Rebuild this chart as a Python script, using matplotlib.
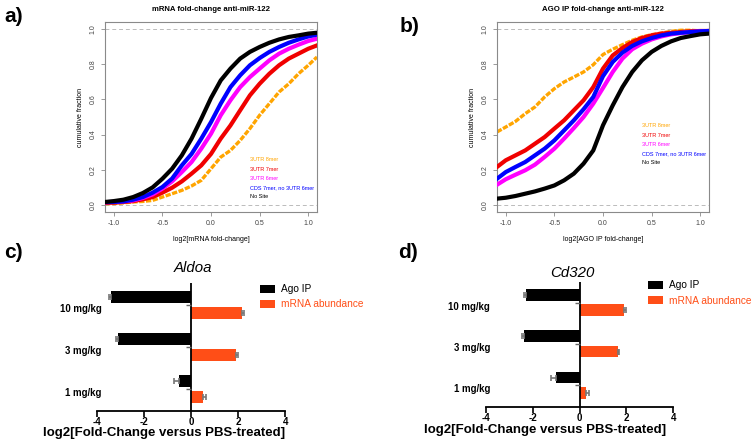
import matplotlib
matplotlib.use("Agg")
import matplotlib.pyplot as plt
from matplotlib.patches import Patch

plt.rcParams['font.family'] = ['Liberation Sans', 'DejaVu Sans']

# ---------------- data ----------------
x_grid = [-1.09, -1.0, -0.9, -0.8, -0.7, -0.6, -0.5, -0.4, -0.3, -0.2, -0.1, 0.0,
          0.1, 0.2, 0.3, 0.4, 0.5, 0.6, 0.7, 0.8, 0.9, 1.0, 1.09]

series_labels = ["3UTR 8mer", "3UTR 7mer", "3UTR 6mer", "CDS 7mer, no 3UTR 6mer", "No Site"]
series_colors = ["#FFA500", "#F00000", "#FF00FF", "#0000FF", "#000000"]

# panel a: mRNA fold-change CDFs
a_8mer = [0.007, 0.008, 0.012, 0.017, 0.02, 0.026, 0.045, 0.064, 0.083, 0.108, 0.14, 0.206,
          0.272, 0.31, 0.367, 0.434, 0.51, 0.576, 0.642, 0.689, 0.746, 0.794, 0.841]
a_7mer = [0.012, 0.013, 0.017, 0.022, 0.032, 0.045, 0.07, 0.098, 0.134, 0.178, 0.225, 0.29,
          0.377, 0.452, 0.538, 0.623, 0.689, 0.746, 0.794, 0.832, 0.86, 0.888, 0.907]
a_6mer = [0.016, 0.017, 0.021, 0.026, 0.04, 0.06, 0.093, 0.134, 0.187, 0.244, 0.32, 0.405,
          0.51, 0.595, 0.67, 0.727, 0.775, 0.822, 0.86, 0.888, 0.911, 0.932, 0.945]
a_cds = [0.016, 0.017, 0.02, 0.03, 0.045, 0.07, 0.102, 0.15, 0.225, 0.29, 0.377, 0.471,
         0.576, 0.67, 0.737, 0.794, 0.835, 0.87, 0.898, 0.922, 0.941, 0.958, 0.968]
a_nosite = [0.017, 0.022, 0.03, 0.045, 0.068, 0.10, 0.149, 0.206, 0.282, 0.377, 0.49, 0.608,
            0.708, 0.775, 0.832, 0.87, 0.898, 0.922, 0.941, 0.955, 0.964, 0.974, 0.979]

# panel b: AGO IP fold-change CDFs
b_8mer = [0.415, 0.443, 0.475, 0.519, 0.557, 0.614, 0.661, 0.699, 0.727, 0.756, 0.797, 0.855,
          0.885, 0.911, 0.936, 0.955, 0.968, 0.977, 0.987, 0.993, 0.993, 0.99, 0.987]
b_7mer = [0.216, 0.254, 0.282, 0.31, 0.348, 0.386, 0.434, 0.481, 0.538, 0.595, 0.67, 0.775,
          0.85, 0.892, 0.926, 0.949, 0.964, 0.974, 0.979, 0.983, 0.987, 0.989, 0.989]
b_6mer = [0.115, 0.146, 0.172, 0.197, 0.229, 0.273, 0.32, 0.377, 0.437, 0.50, 0.576, 0.665,
          0.756, 0.832, 0.885, 0.917, 0.941, 0.958, 0.97, 0.977, 0.983, 0.987, 0.989]
b_cds = [0.149, 0.187, 0.216, 0.244, 0.282, 0.32, 0.367, 0.424, 0.481, 0.544, 0.614, 0.732,
         0.813, 0.866, 0.904, 0.93, 0.949, 0.964, 0.974, 0.979, 0.983, 0.987, 0.989]
b_nosite = [0.036, 0.041, 0.051, 0.064, 0.077, 0.093, 0.111, 0.14, 0.178, 0.235, 0.31, 0.453,
            0.566, 0.67, 0.756, 0.822, 0.87, 0.904, 0.93, 0.949, 0.96, 0.97, 0.974]

# bar panels
doses = ["1 mg/kg", "3 mg/kg", "10 mg/kg"]
aldoa_ago = [-0.54, -3.1, -3.4]
aldoa_ago_err = [0.2, 0.1, 0.1]
aldoa_mrna = [0.49, 1.9, 2.15]
aldoa_mrna_err = [0.13, 0.1, 0.08]
cd320_ago = [-1.01, -2.36, -2.29]
cd320_ago_err = [0.22, 0.1, 0.08]
cd320_mrna = [0.27, 1.62, 1.91]
cd320_mrna_err = [0.15, 0.06, 0.07]

# ---------------- figure ----------------
fig = plt.figure(figsize=(7.53, 4.44), dpi=100)
W, H = 753.0, 444.0


def ax_px(l, t, r, b):
    return fig.add_axes([l / W, 1 - b / H, (r - l) / W, (b - t) / H])


grey = "#8a8a8a"


def cdf_panel(ax, curves, title, xlabel, leg_x, leg_y):
    for ys, c in zip(curves, series_colors):
        if c == "#FFA500":
            ax.plot(x_grid, ys, color=c, lw=2.4, ls=(0, (1.6, 0.45)), zorder=2)
        else:
            ax.plot(x_grid, ys, color=c, lw=3.0, zorder=3)
    ax.axhline(0, color="#bbbbbb", lw=0.7, ls=(0, (4, 3)), zorder=1)
    ax.axhline(1, color="#bbbbbb", lw=0.7, ls=(0, (4, 3)), zorder=1)
    ax.set_xlim(-1.09, 1.09)
    ax.set_ylim(-0.04, 1.04)
    ax.set_xticks([-1.0, -0.5, 0.0, 0.5, 1.0])
    ax.set_xticklabels(["-1.0", "-0.5", "0.0", "0.5", "1.0"])
    ax.set_yticks([0.0, 0.2, 0.4, 0.6, 0.8, 1.0])
    ax.set_yticklabels(["0.0", "0.2", "0.4", "0.6", "0.8", "1.0"], rotation=90, va="center")
    ax.tick_params(labelsize=5, colors="#444444", length=3, width=0.6, pad=3)
    ax.tick_params(axis="both", color=grey)
    for s in ax.spines.values():
        s.set_color(grey)
        s.set_linewidth(0.8)
    ax.set_title(title, fontsize=5.6, fontweight="bold", pad=8)
    ax.set_xlabel(xlabel, fontsize=5, labelpad=6)
    ax.set_ylabel("cumulative fraction", fontsize=5, labelpad=4)
    for i, (lab, c) in enumerate(zip(series_labels, series_colors)):
        ax.text(leg_x, leg_y - i * 0.048, lab, color=c, fontsize=4.0,
                transform=ax.transAxes, va="center", ha="left")


ax_a = ax_px(105, 22, 317, 212)
cdf_panel(ax_a, [a_8mer, a_7mer, a_6mer, a_cds, a_nosite],
          "mRNA fold-change anti-miR-122", "log2[mRNA fold-change]", 0.684, 0.274)

ax_b = ax_px(497, 22, 709, 212)
cdf_panel(ax_b, [b_8mer, b_7mer, b_6mer, b_cds, b_nosite],
          "AGO IP fold-change anti-miR-122", "log2[AGO IP fold-change]", 0.685, 0.453)

orange = "#FF4E17"


def bar_panel(ax, ago, ago_err, mrna, mrna_err, title, ylim, title_xy, xlabel_xy, leg_xy):
    pos = list(range(len(doses)))
    off = 0.185
    h = 0.28
    ago_pos = [p + off for p in pos]
    mrna_pos = [p - off for p in pos]
    ago_xerr = [[e for e in ago_err], [0 for _ in ago_err]]
    mrna_xerr = [[0 for _ in mrna_err], [e for e in mrna_err]]
    ax.barh(ago_pos, ago, height=h, color="black", xerr=ago_xerr,
            error_kw=dict(ecolor="#777777", elinewidth=1.2, capsize=2.5, capthick=1.2),
            label="Ago IP", zorder=2)
    ax.barh(mrna_pos, mrna, height=h, color=orange, xerr=mrna_xerr,
            error_kw=dict(ecolor="#777777", elinewidth=1.2, capsize=2.5, capthick=1.2),
            label="mRNA abundance", zorder=2)
    ax.set_xlim(-4, 4)
    ax.set_ylim(*ylim)
    ax.set_xticks([-4, -2, 0, 2, 4])
    ax.set_xticklabels(["-4", "-2", "0", "2", "4"], fontweight="bold")
    ax.tick_params(axis="x", labelsize=7, length=4, width=1.2, pad=0.5)
    ax.set_yticks([p - 0.07 for p in pos])
    ax.set_yticklabels(doses, fontweight="bold")
    ax.tick_params(axis="y", labelsize=6.9, length=0, pad=-3)
    for s in ["top", "right", "left"]:
        ax.spines[s].set_visible(False)
    ax.spines["bottom"].set_linewidth(1.3)
    ax.axvline(0, color="black", lw=1.3, zorder=3)
    ax.plot([0] * len(pos), pos, ls="none", marker=0, markersize=3.5,
            markeredgewidth=1.0, color="#666666", zorder=3)
    ax.text(xlabel_xy[0], xlabel_xy[1], "log2[Fold-Change versus PBS-treated]",
            fontsize=9.5, fontweight="bold", transform=ax.transAxes,
            ha="center", va="center")
    ax.text(title_xy[0], title_xy[1], title, fontsize=10.8, style="italic",
            transform=ax.transAxes, ha="center", va="center")
    handles = [Patch(facecolor="black"), Patch(facecolor=orange)]
    leg = ax.legend(handles, ["Ago IP", "mRNA abundance"], loc="upper left",
                    bbox_to_anchor=leg_xy, frameon=False, fontsize=7.3,
                    handlelength=1.5, handleheight=0.9, handletextpad=0.6,
                    labelspacing=0.5, borderaxespad=0, borderpad=0)
    leg.get_texts()[1].set_color(orange)


ax_c = ax_px(97.3, 283, 285.3, 411)
bar_panel(ax_c, aldoa_ago, aldoa_ago_err, aldoa_mrna, aldoa_mrna_err, "Aldoa", (-0.52, 2.52),
          title_xy=(0.507, 1.12), xlabel_xy=(0.353, -0.168), leg_xy=(0.865, 0.99))

ax_d = ax_px(486, 282, 673.3, 407)
bar_panel(ax_d, cd320_ago, cd320_ago_err, cd320_mrna, cd320_mrna_err, "Cd320", (-0.53, 2.5),
          title_xy=(0.462, 1.07), xlabel_xy=(0.317, -0.184), leg_xy=(0.865, 1.012))

# panel letters
for lab, x, y in [("a)", 4, 17), ("b)", 400, 27), ("c)", 4, 252), ("d)", 398, 252)]:
    fig.text(x / W, 1 - y / H, lab, fontsize=15, fontweight="bold", va="center", ha="left")

fig.savefig("out.png", dpi=100)
